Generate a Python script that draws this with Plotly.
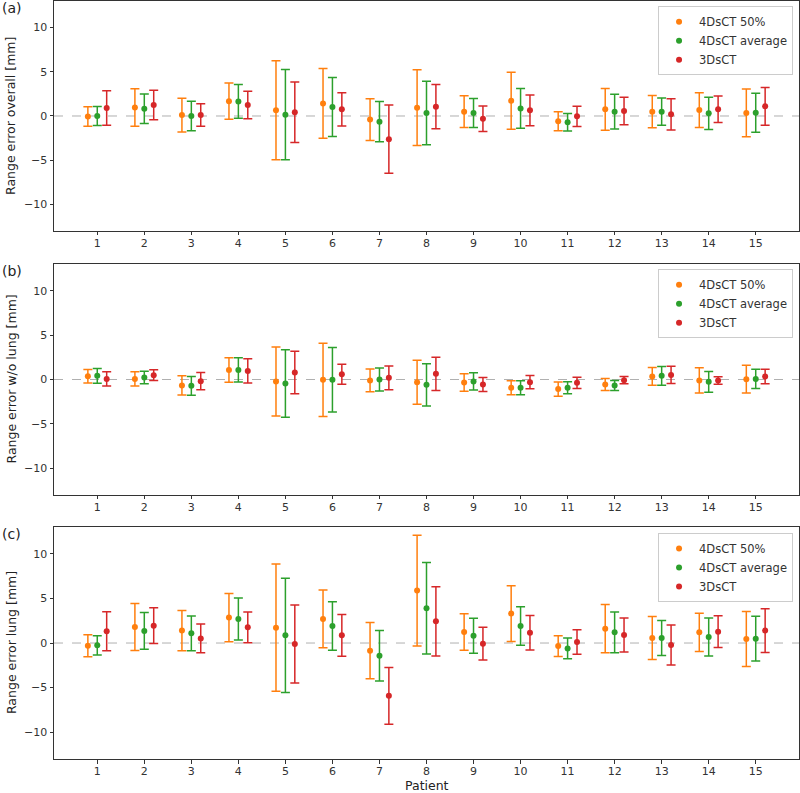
import plotly.graph_objects as go

# patients on the x axis
patients = list(range(1, 16))
series_names = ["4DsCT 50%", "4DsCT average", "3DsCT"]

# (a) range error overall [mm]: mean and error half-width
overall_50 = [-0.05, 0.95, 0.1, 1.68, 0.64, 1.42, -0.41, 0.94, 0.49, 1.72, -0.6, 0.75, 0.49, 0.67, 0.34]
overall_50_err = [1.1, 2.12, 1.9, 2.06, 5.6, 3.95, 2.36, 4.28, 1.8, 3.23, 1.08, 2.36, 1.82, 1.97, 2.7]
overall_avg = [0.0, 0.82, 0.0, 1.65, 0.15, 1.01, -0.64, 0.34, 0.34, 0.86, -0.71, 0.49, 0.49, 0.3, 0.37]
overall_avg_err = [1.07, 1.66, 1.68, 1.9, 5.1, 3.33, 2.27, 3.6, 1.65, 2.25, 1.0, 1.97, 1.55, 1.82, 2.2]
overall_3d = [0.9, 1.24, 0.1, 1.24, 0.41, 0.75, -2.62, 1.05, -0.3, 0.64, -0.04, 0.56, 0.19, 0.75, 1.09]
overall_3d_err = [1.95, 1.66, 1.27, 1.55, 3.42, 1.87, 3.85, 2.5, 1.44, 1.74, 1.15, 1.55, 1.76, 1.5, 2.13]

# (b) range error without lung [mm]
nolung_50 = [0.37, 0.07, -0.67, 1.08, -0.22, -0.04, -0.11, -0.3, -0.34, -0.93, -1.08, -0.56, 0.34, -0.11, 0.04]
nolung_50_err = [0.77, 0.8, 1.08, 1.38, 3.89, 4.11, 1.28, 2.48, 0.98, 0.78, 0.8, 0.67, 1.0, 1.42, 1.57]
nolung_avg = [0.41, 0.22, -0.71, 1.08, -0.45, -0.04, 0.0, -0.6, -0.22, -0.93, -0.93, -0.67, 0.41, -0.26, 0.07]
nolung_avg_err = [0.82, 0.7, 1.05, 1.36, 3.81, 3.63, 1.3, 2.37, 0.97, 0.78, 0.67, 0.57, 1.05, 1.16, 1.08]
nolung_3d = [0.07, 0.49, -0.19, 0.97, 0.79, 0.6, 0.19, 0.64, -0.56, -0.3, -0.37, -0.07, 0.52, -0.11, 0.34]
nolung_3d_err = [0.8, 0.6, 0.97, 1.37, 2.39, 1.12, 1.33, 1.87, 0.8, 0.75, 0.63, 0.4, 0.97, 0.42, 0.82]

# (c) range error lung [mm]
lung_50 = [-0.3, 1.8, 1.39, 2.85, 1.72, 2.7, -0.86, 5.88, 1.24, 3.3, -0.34, 1.61, 0.56, 1.2, 0.45]
lung_50_err = [1.24, 2.64, 2.25, 2.7, 7.13, 3.24, 3.15, 6.2, 2.04, 3.13, 1.16, 2.7, 2.4, 2.15, 3.09]
lung_avg = [-0.26, 1.35, 1.09, 2.7, 0.86, 1.91, -1.42, 3.9, 0.82, 1.91, -0.6, 1.2, 0.56, 0.67, 0.49]
lung_avg_err = [1.07, 2.06, 1.95, 2.36, 6.4, 2.73, 2.83, 5.13, 1.97, 2.15, 1.16, 2.28, 1.97, 2.13, 2.51]
lung_3d = [1.31, 1.95, 0.52, 1.76, -0.11, 0.86, -5.92, 2.43, -0.07, 1.16, 0.11, 0.9, -0.22, 1.27, 1.39]
lung_3d_err = [2.19, 1.99, 1.6, 1.73, 4.38, 2.34, 3.19, 3.88, 1.83, 1.93, 1.38, 1.9, 2.24, 1.78, 2.45]

ytick_vals = [-10, -5, 0, 5, 10]
ytick_text = ["\u221210", "\u22125", "0", "5", "10"]

panels = [
    ("(a)", "Range error overall [mm]",
     [(overall_50, overall_50_err), (overall_avg, overall_avg_err), (overall_3d, overall_3d_err)]),
    ("(b)", "Range error w/o lung [mm]",
     [(nolung_50, nolung_50_err), (nolung_avg, nolung_avg_err), (nolung_3d, nolung_3d_err)]),
    ("(c)", "Range error lung [mm]",
     [(lung_50, lung_50_err), (lung_avg, lung_avg_err), (lung_3d, lung_3d_err)]),
]

colors = ["#ff7f0e", "#2ca02c", "#d62728"]
offsets = [-0.2, 0.0, 0.2]

# vertical domains of the three panels (paper coords)
domains = [(0.6966, 1.0), (0.3483, 0.653), (0.0, 0.306)]
legend_tops = [0.993, 0.646, 0.298]

FONT = "DejaVu Sans"
AX = "#333333"

fig = go.Figure()
layout = {}

for i, (tag, ylabel, series) in enumerate(panels):
    n = "" if i == 0 else str(i + 1)
    legend_id = "legend" + n
    for (mean, err), name, color, off in zip(series, series_names, colors, offsets):
        fig.add_trace(go.Scatter(
            x=[p + off for p in patients],
            y=mean,
            mode="markers",
            name=name,
            marker=dict(color=color, size=6),
            error_y=dict(type="data", array=err, symmetric=True,
                         color=color, thickness=1.5, width=4.5),
            xaxis="x" + n,
            yaxis="y" + n,
            legend=legend_id,
        ))

    layout["xaxis" + n] = dict(
        domain=[0, 1], anchor="y" + n, range=[0.08, 15.92],
        tickvals=patients, ticks="outside", ticklen=3.5, tickcolor=AX,
        showline=True, linecolor=AX, linewidth=1, mirror=True,
        showgrid=False, zeroline=False, automargin=False,
        ticklabelstandoff=-2,
        tickfont=dict(size=11, color=AX, family=FONT),
    )
    layout["yaxis" + n] = dict(
        domain=list(domains[i]), anchor="x" + n, range=[-13, 13],
        tickvals=ytick_vals, ticktext=ytick_text,
        ticks="outside", ticklen=3.5, tickcolor=AX,
        showline=True, linecolor=AX, linewidth=1, mirror=True,
        showgrid=False, zeroline=False, automargin=False,
        tickfont=dict(size=11, color=AX, family=FONT),
    )
    layout[legend_id] = dict(
        x=0.992, xanchor="right", y=legend_tops[i], yanchor="top",
        bordercolor="#cccccc", borderwidth=1, bgcolor="rgba(255,255,255,0.8)",
        font=dict(size=11.5, color=AX, family=FONT),
        tracegroupgap=0, itemwidth=30,
    )

    fig.add_shape(type="line", xref="x" + n + " domain", yref="y" + n,
                  x0=0, x1=1, y0=0, y1=0,
                  line=dict(color="#b0b0b0", width=1, dash="dash"), layer="below")
    # panel tag
    fig.add_annotation(text=tag, xref="paper", yref="paper",
                       x=-0.0725, xanchor="left", y=domains[i][1] + 0.004, yanchor="top",
                       showarrow=False, font=dict(size=14, color="#222222", family=FONT))
    # y axis title
    fig.add_annotation(text=ylabel, xref="paper", yref="paper", textangle=-90,
                       x=-0.0577, xanchor="center", y=sum(domains[i]) / 2, yanchor="middle",
                       showarrow=False, font=dict(size=12.5, color="#222222", family=FONT))

fig.add_annotation(text="Patient", xref="paper", yref="paper",
                   x=0.5, xanchor="center", y=-0.035, yanchor="middle",
                   showarrow=False, font=dict(size=12.5, color="#222222", family=FONT))

fig.update_layout(
    **layout,
    width=800, height=793,
    margin=dict(l=54, r=1, t=1, b=34, autoexpand=False),
    plot_bgcolor="white", paper_bgcolor="white",
    font=dict(family=FONT, color=AX),
    showlegend=True,
)

# page body has an 8px default margin; drop it so the figure fills the window
fig.write_html("out.html", config={"displayModeBar": False},
               post_script="document.body.style.margin='0';")
